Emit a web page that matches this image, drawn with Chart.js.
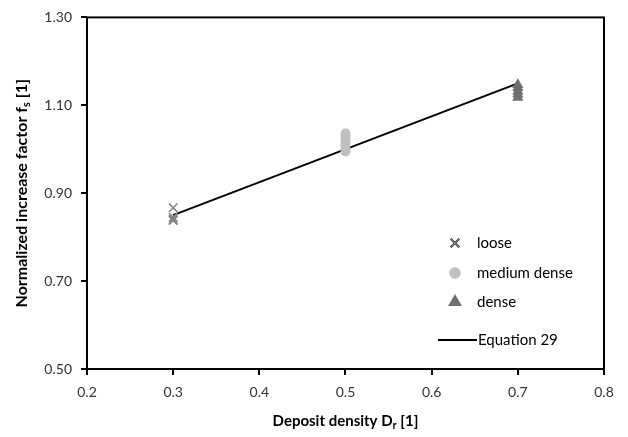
<!DOCTYPE html>
<html>
<head>
<meta charset="utf-8">
<script src="https://cdn.jsdelivr.net/npm/chart.js@4/dist/chart.umd.min.js"></script>
<style>
  body { margin: 0; background: #fff; }
  #wrap { width: 628px; height: 437px; }
</style>
</head>
<body>
<div id="wrap"><canvas id="myChart" width="628" height="437"></canvas></div>
<script>
// valori
const looseX = [0.3, 0.3, 0.3, 0.3];
const looseY = [0.867, 0.845, 0.84, 0.838];
const mediumX = [0.5, 0.5, 0.5, 0.5, 0.5, 0.5, 0.5];
const mediumY = [0.995, 1.002, 1.01, 1.017, 1.024, 1.03, 1.036];
const denseX = [0.7, 0.7, 0.7, 0.7, 0.7];
const denseY = [1.147, 1.14, 1.132, 1.125, 1.118];
const eqX = [0.3, 0.7];
const eqY = [0.85, 1.15];
const xTicks = [0.2, 0.3, 0.4, 0.5, 0.6, 0.7, 0.8];
const yTicks = [0.5, 0.7, 0.9, 1.1, 1.3];

const toPts = (xs, ys) => xs.map((x, i) => ({ x: x, y: ys[i] }));

const FONT = "Lato, 'Open Sans', sans-serif";

// cornice, legenda e titoli degli assi disegnati a mano (servono i pedici)
const extras = {
  id: "extras",
  afterDraw(chart) {
    const ctx = chart.ctx;
    const a = chart.chartArea;
    ctx.save();
    ctx.strokeStyle = "#000";
    ctx.lineWidth = 2;
    ctx.strokeRect(a.left, a.top, a.right - a.left, a.bottom - a.top);

    // legenda dentro l'area del grafico
    const ds = chart.data.datasets;
    const lx = 455;
    const rows = [243, 273, 302];
    ctx.font = "15px " + FONT;
    ctx.textBaseline = "middle";
    for (let i = 0; i < 3; i++) {
      const d = ds[i];
      Chart.helpers.drawPoint(ctx, {
        pointStyle: d.pointStyle,
        radius: d.pointRadius,
        borderWidth: d.borderWidth
      }, lx, rows[i]);
      ctx.fillStyle = d.backgroundColor;
      ctx.strokeStyle = d.borderColor;
      ctx.lineWidth = d.borderWidth;
      if (d.pointStyle !== "crossRot") ctx.fill();
      ctx.stroke();
      ctx.fillStyle = "#000";
      ctx.fillText(d.label, 477, rows[i]);
    }
    ctx.strokeStyle = "#000";
    ctx.lineWidth = 2;
    ctx.beginPath();
    ctx.moveTo(438, 340);
    ctx.lineTo(477, 340);
    ctx.stroke();
    ctx.fillStyle = "#000";
    ctx.fillText(ds[3].label, 478, 340);

    // titolo asse x
    ctx.textBaseline = "alphabetic";
    const xParts = [["Deposit density D", 15, 0], ["r", 11, 3], [" [1]", 15, 0]];
    drawParts(ctx, xParts, (a.left + a.right) / 2, 426);

    // titolo asse y
    ctx.translate(27, (a.top + a.bottom) / 2);
    ctx.rotate(-Math.PI / 2);
    const yParts = [["Normalized increase factor f", 16, 0], ["s", 11, 3], [" [1]", 16, 0]];
    drawParts(ctx, yParts, 0, 0);
    ctx.restore();
  }
};

function drawParts(ctx, parts, cx, y) {
  let w = 0;
  parts.forEach(p => { ctx.font = "bold " + p[1] + "px " + FONT; w += ctx.measureText(p[0]).width; });
  let x = cx - w / 2;
  ctx.textAlign = "left";
  parts.forEach(p => {
    ctx.font = "bold " + p[1] + "px " + FONT;
    ctx.fillText(p[0], x, y + p[2]);
    x += ctx.measureText(p[0]).width;
  });
}

new Chart(document.getElementById("myChart"), {
  type: "scatter",
  data: {
    datasets: [
      {
        label: "loose",
        data: toPts(looseX, looseY),
        pointStyle: "crossRot",
        pointRadius: 6,
        borderWidth: 1.5,
        borderColor: "#808080",
        backgroundColor: "#808080"
      },
      {
        label: "medium dense",
        data: toPts(mediumX, mediumY),
        pointStyle: "circle",
        pointRadius: 5,
        borderWidth: 0,
        borderColor: "#c0c0c0",
        backgroundColor: "#c0c0c0"
      },
      {
        label: "dense",
        data: toPts(denseX, denseY),
        pointStyle: "triangle",
        pointRadius: 6.5,
        borderWidth: 0,
        borderColor: "#707070",
        backgroundColor: "#707070"
      },
      {
        label: "Equation 29",
        data: toPts(eqX, eqY),
        showLine: true,
        pointRadius: 0,
        borderWidth: 2,
        borderColor: "#000",
        backgroundColor: "#000"
      }
    ]
  },
  options: {
    responsive: false,
    animation: false,
    layout: { padding: { top: 12, right: 24, left: 0, bottom: 0 } },
    plugins: {
      legend: { display: false },
      tooltip: { enabled: false }
    },
    scales: {
      x: {
        type: "linear",
        min: 0.2,
        max: 0.8,
        afterBuildTicks: s => { s.ticks = xTicks.map(v => ({ value: v })); },
        afterFit: s => { s.height = 68; },
        border: { display: false },
        grid: { drawOnChartArea: false, tickLength: 6, color: "#000", lineWidth: 2 },
        ticks: {
          color: "#333",
          font: { family: FONT, size: 14 },
          padding: 9,
          callback: v => v.toFixed(1)
        }
      },
      y: {
        min: 0.5,
        max: 1.3,
        afterBuildTicks: s => { s.ticks = yTicks.map(v => ({ value: v })); },
        afterFit: s => { s.width = 87; },
        border: { display: false },
        grid: { drawOnChartArea: false, tickLength: 6, color: "#000", lineWidth: 2 },
        ticks: {
          color: "#333",
          font: { family: FONT, size: 14 },
          padding: 9,
          callback: v => v.toFixed(2)
        }
      }
    }
  },
  plugins: [extras]
});
</script>
</body>
</html>
